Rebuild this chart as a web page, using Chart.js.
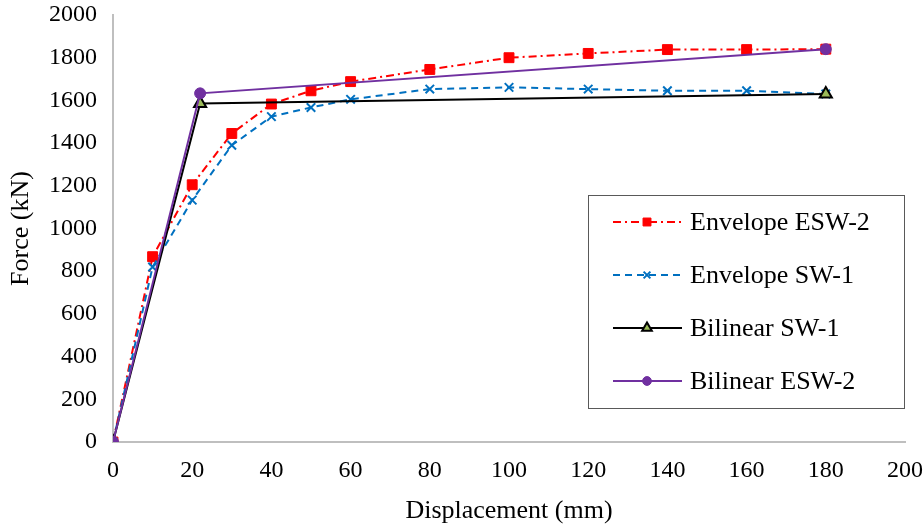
<!DOCTYPE html>
<html>
<head>
<meta charset="utf-8">
<script src="https://cdn.jsdelivr.net/npm/chart.js@4.4.1/dist/chart.umd.min.js"></script>
<style>
  html, body { margin: 0; padding: 0; background: #fff; }
  #wrap { width: 924px; height: 527px; }
</style>
</head>
<body>
<div id="wrap"><canvas id="chart" width="924" height="527"></canvas></div>
<script>
const FONT = "'Liberation Serif', 'Times New Roman', serif";

// values
const envelopeDisp = [0, 10, 20, 30, 40, 50, 60, 80, 100, 120, 140, 160, 180];
const envelopeESW2 = [0, 868, 1205, 1445, 1583, 1645, 1688, 1745, 1800, 1820, 1838, 1838, 1840];
const envelopeSW1 = [0, 820, 1133, 1390, 1524, 1567, 1605, 1653, 1661, 1653, 1645, 1645, 1630];
const bilinearDisp = [0, 22, 180];
const bilinearSW1 = [0, 1585, 1630];
const bilinearESW2 = [0, 1633, 1840];
const seriesNames = ["Envelope ESW-2", "Envelope SW-1", "Bilinear SW-1", "Bilinear ESW-2"];

const toPoints = (xs, ys) => xs.map((x, i) => ({ x: x, y: ys[i] }));

// draws one marker, used for the legend samples
function drawMarker(ctx, ds, x, y, r) {
  ctx.save();
  ctx.setLineDash([]);
  ctx.fillStyle = ds.pointBackgroundColor;
  ctx.strokeStyle = ds.pointBorderColor;
  ctx.lineWidth = ds.pointBorderWidth;
  ctx.beginPath();
  if (ds.pointStyle === "rect") {
    const s = r * Math.SQRT1_2;
    ctx.rect(x - s, y - s, 2 * s, 2 * s);
    ctx.fill();
  } else if (ds.pointStyle === "crossRot") {
    const s = r * Math.SQRT1_2;
    ctx.moveTo(x - s, y - s); ctx.lineTo(x + s, y + s);
    ctx.moveTo(x - s, y + s); ctx.lineTo(x + s, y - s);
  } else if (ds.pointStyle === "triangle") {
    ctx.moveTo(x, y - r);
    ctx.lineTo(x + r * 0.866, y + r * 0.5);
    ctx.lineTo(x - r * 0.866, y + r * 0.5);
    ctx.closePath();
    ctx.fill();
  } else {
    ctx.arc(x, y, r, 0, Math.PI * 2);
    ctx.fill();
  }
  ctx.stroke();
  ctx.restore();
}

const boxLegend = {
  id: "boxLegend",
  afterDraw(chart) {
    const ctx = chart.ctx;
    const box = { x: 588.5, y: 195.5, w: 316, h: 213 };
    ctx.save();
    ctx.fillStyle = "#fff";
    ctx.fillRect(box.x, box.y, box.w, box.h);
    ctx.strokeStyle = "#595959";
    ctx.lineWidth = 1;
    ctx.strokeRect(box.x, box.y, box.w, box.h);
    const rows = [222, 275, 328, 381];
    chart.data.datasets.forEach((ds, i) => {
      const y = rows[i];
      ctx.save();
      ctx.strokeStyle = ds.borderColor;
      ctx.lineWidth = ds.borderWidth;
      ctx.setLineDash(ds.borderDash || []);
      ctx.beginPath();
      ctx.moveTo(613, y);
      ctx.lineTo(682, y);
      ctx.stroke();
      ctx.restore();
      drawMarker(ctx, ds, 647, y, ds.pointRadius * 0.8);
      ctx.fillStyle = "#000";
      ctx.font = "26px " + FONT;
      ctx.textBaseline = "middle";
      ctx.textAlign = "left";
      ctx.fillText(ds.label, 690, y + 1);
    });
    ctx.restore();
  },
};

const plainNumber = (v) => String(v);

// fixed axis sizes so the plot area sits where it does in the reference
function fixX(scale) {
  scale.height = 85;
  scale.paddingLeft = 0;
  scale.paddingRight = 0;
}
function fixY(scale) {
  scale.width = 113;
  scale.paddingTop = 0;
  scale.paddingBottom = 0;
}

new Chart(document.getElementById("chart"), {
  type: "scatter",
  data: {
    datasets: [
      {
        label: seriesNames[0],
        data: toPoints(envelopeDisp, envelopeESW2),
        showLine: true,
        borderColor: "#ff0000",
        borderWidth: 2,
        borderDash: [8, 4, 2, 4],
        pointStyle: "rect",
        pointRadius: 7,
        pointBackgroundColor: "#ff0000",
        pointBorderColor: "#ff0000",
        pointBorderWidth: 1,
        order: 4,
      },
      {
        label: seriesNames[1],
        data: toPoints(envelopeDisp, envelopeSW1),
        showLine: true,
        borderColor: "#0070c0",
        borderWidth: 2,
        borderDash: [7, 5],
        pointStyle: "crossRot",
        pointRadius: 6,
        pointBackgroundColor: "#0070c0",
        pointBorderColor: "#0070c0",
        pointBorderWidth: 2,
        order: 3,
      },
      {
        label: seriesNames[2],
        data: toPoints(bilinearDisp, bilinearSW1),
        showLine: true,
        borderColor: "#000000",
        borderWidth: 2,
        pointStyle: "triangle",
        pointRadius: 7,
        pointBackgroundColor: "#9bbb59",
        pointBorderColor: "#000000",
        pointBorderWidth: 2,
        order: 2,
      },
      {
        label: seriesNames[3],
        data: toPoints(bilinearDisp, bilinearESW2),
        showLine: true,
        borderColor: "#7030a0",
        borderWidth: 2,
        pointStyle: "circle",
        pointRadius: 5.5,
        pointBackgroundColor: "#7030a0",
        pointBorderColor: "#7030a0",
        pointBorderWidth: 1,
        order: 1,
      },
    ],
  },
  options: {
    responsive: false,
    animation: false,
    layout: { padding: { top: 15, right: 19, left: 0, bottom: 0 } },
    plugins: {
      legend: { display: false },
      tooltip: { enabled: false },
    },
    scales: {
      x: {
        type: "linear",
        min: 0,
        max: 200,
        ticks: { stepSize: 20, color: "#000", font: { family: FONT, size: 24 }, padding: 14, callback: plainNumber },
        grid: { display: false, drawTicks: false },
        border: { display: true, color: "#bfbfbf", width: 2 },
        title: {
          display: true,
          text: "Displacement (mm)",
          color: "#000",
          font: { family: FONT, size: 26 },
          padding: { top: 4, bottom: 0 },
        },
        afterFit: fixX,
      },
      y: {
        type: "linear",
        min: 0,
        max: 2000,
        ticks: { stepSize: 200, color: "#000", font: { family: FONT, size: 24 }, padding: 16, callback: plainNumber },
        grid: { display: false, drawTicks: false },
        border: { display: true, color: "#bfbfbf", width: 2 },
        title: {
          display: true,
          text: "Force (kN)",
          color: "#000",
          font: { family: FONT, size: 26 },
          padding: { top: 6, bottom: 0 },
        },
        afterFit: fixY,
      },
    },
  },
  plugins: [boxLegend],
});
</script>
</body>
</html>
